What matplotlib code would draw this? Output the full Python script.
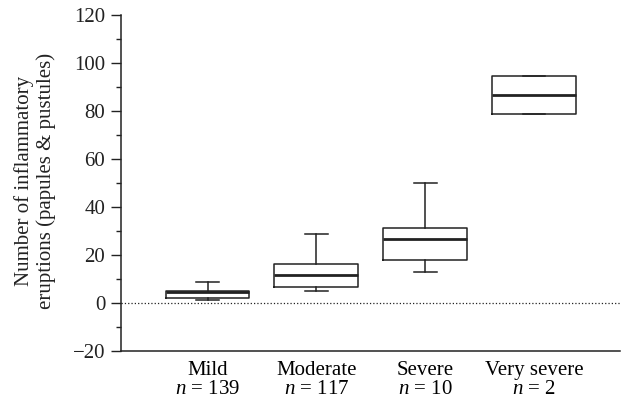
import matplotlib.pyplot as plt
from matplotlib.ticker import MultipleLocator

plt.rcParams['font.family'] = 'Liberation Serif'
plt.rcParams['mathtext.fontset'] = 'custom'
plt.rcParams['mathtext.rm'] = 'Liberation Serif'
plt.rcParams['mathtext.it'] = 'Liberation Serif:italic'

groups = ['Mild', 'Moderate', 'Severe', 'Very severe']
counts = [139, 117, 10, 2]

whislo = [1.2, 4.9, 12.9, 78.8]
q1 = [2.2, 6.8, 18.1, 78.8]
med = [4.6, 11.8, 26.8, 86.8]
q3 = [5.1, 16.2, 31.1, 94.7]
whishi = [8.9, 28.8, 50.1, 94.7]

stats = []
for i in range(len(groups)):
    stats.append(dict(whislo=whislo[i], q1=q1[i], med=med[i], q3=q3[i],
                      whishi=whishi[i], fliers=[]))

W, H = 621, 409
fig = plt.figure(figsize=(W / 100, H / 100), dpi=100)
ax = fig.add_axes([120.5 / W, 58 / H, (620 - 120.5) / W, 336 / H])

col = '#222222'
ax.bxp(stats, positions=[1, 2, 3, 4], widths=0.77, capwidths=0.21,
       showfliers=False,
       boxprops=dict(color=col, linewidth=1.1),
       medianprops=dict(color=col, linewidth=2.0),
       whiskerprops=dict(color=col, linewidth=1.1),
       capprops=dict(color=col, linewidth=1.1))

# dotted zero line
ax.axhline(0, color=col, linestyle=':', linewidth=0.9, zorder=0)

ax.set_xlim(0.2, 4.79)
ax.set_ylim(-20, 120)
ax.yaxis.set_major_locator(MultipleLocator(20))
ax.yaxis.set_minor_locator(MultipleLocator(10))

labels = [f'{g}\n$n$ = {c}' for g, c in zip(groups, counts)]
ax.set_xticks([1, 2, 3, 4])
ax.set_xticklabels(labels, fontsize=15, linespacing=1.05)
ax.tick_params(axis='x', length=0, pad=7)
ax.tick_params(axis='y', which='major', length=7, width=1, labelsize=15, colors=col, pad=4)
ax.tick_params(axis='y', which='minor', length=3.5, width=1, colors=col)
ax.yaxis.set_major_formatter(plt.FuncFormatter(lambda v, p: f'{v:.0f}'.replace('-', '\u2212')))

for s in ['top', 'right']:
    ax.spines[s].set_visible(False)
for s in ['left', 'bottom']:
    ax.spines[s].set_color(col)
    ax.spines[s].set_linewidth(1.1)

fig.text(35 / W, 1 - 181 / H, 'Number of inflammatory\neruptions (papules & pustules)',
         rotation=90, ha='center', va='center', multialignment='center',
         fontsize=15, linespacing=1.2, color=col)

fig.savefig('out.png', dpi=100)
